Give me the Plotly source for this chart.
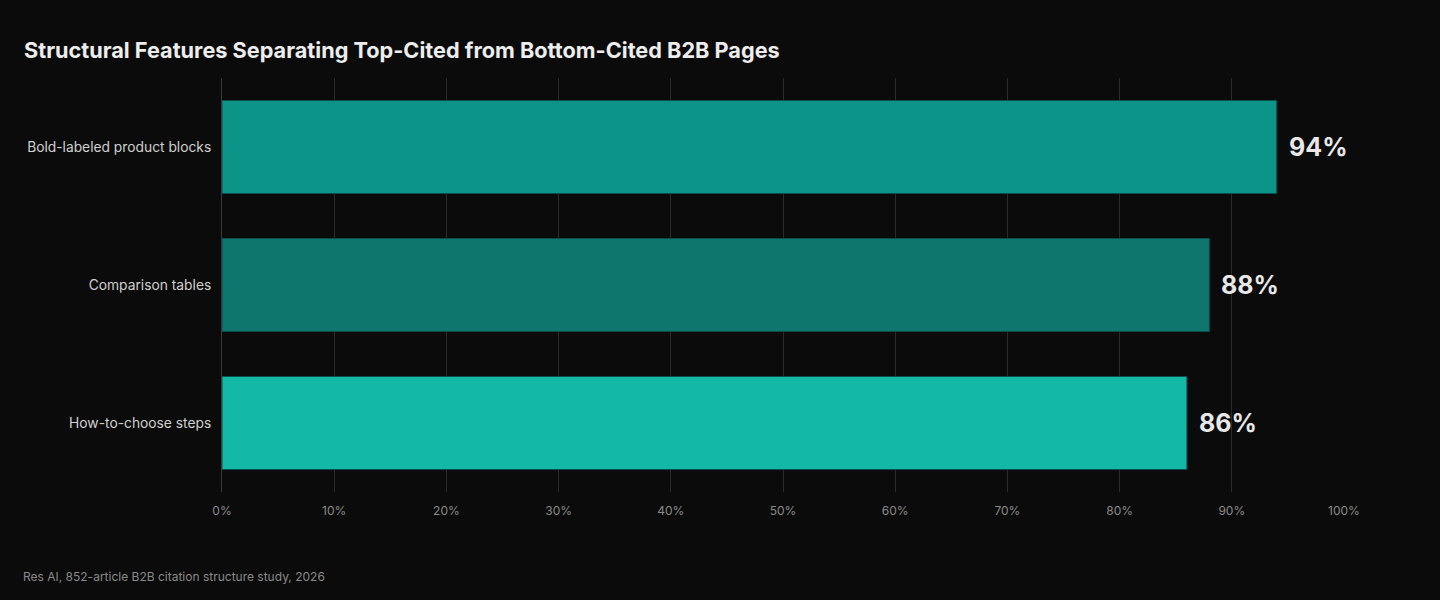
import plotly.graph_objects as go

categories = ["Bold-labeled product blocks", "Comparison tables", "How-to-choose steps"]
values = [94, 88, 86]
bar_colors = ["#0D9488", "#0F766E", "#14B8A6"]
tick_vals = [0, 10, 20, 30, 40, 50, 60, 70, 80, 90, 100]
tick_text = [f"{v}%" for v in tick_vals]
title_text = "Structural Features Separating Top-Cited from Bottom-Cited B2B Pages"
source_text = "Res AI, 852-article B2B citation structure study, 2026"

FONT = "Inter, Roboto, sans-serif"
W, H = 1440, 600
L, R, T, B = 222, 96, 78, 108
PW = W - L - R

fig = go.Figure(
    go.Bar(
        x=values,
        y=categories,
        orientation="h",
        marker=dict(color=bar_colors, line=dict(color="#0b4f4a", width=1)),
        width=0.674,
        hoverinfo="skip",
    )
)

annotations = [
    dict(
        x=v,
        y=c,
        xref="x",
        yref="y",
        text=f"<b>{v}%</b>",
        xanchor="left",
        yanchor="middle",
        xshift=10,
        showarrow=False,
        font=dict(family=FONT, size=25, color="#E8E8E8"),
    )
    for c, v in zip(categories, values)
]
annotations.append(
    dict(
        text=source_text,
        xref="paper",
        yref="paper",
        x=(21 - L) / PW,
        y=0,
        xanchor="left",
        yanchor="middle",
        yshift=-(576 - (H - B)),
        showarrow=False,
        font=dict(family=FONT, size=12, color="#8A8A8A"),
    )
)

fig.update_layout(
    width=W,
    height=H,
    paper_bgcolor="#0B0B0B",
    plot_bgcolor="#0B0B0B",
    margin=dict(l=L, r=R, t=T, b=B),
    showlegend=False,
    title=dict(
        text=f"<b>{title_text}</b>",
        x=24 / W,
        xanchor="left",
        y=1 - 50 / H,
        yanchor="middle",
        font=dict(family=FONT, size=21.7, color="#EDEDED"),
    ),
    xaxis=dict(
        range=[0, 100],
        tickvals=tick_vals,
        ticktext=tick_text,
        showgrid=True,
        gridcolor="#2A2A2A",
        gridwidth=1,
        zeroline=False,
        showline=False,
        ticks="",
        ticklabelstandoff=10,
        tickfont=dict(family=FONT, size=12, color="#8A8A8A"),
        fixedrange=True,
    ),
    yaxis=dict(
        autorange="reversed",
        showgrid=False,
        zeroline=False,
        showline=True,
        linecolor="#3A3A3A",
        linewidth=1,
        ticks="",
        ticklabelstandoff=7,
        tickfont=dict(family=FONT, size=13.8, color="#D0D0D0"),
        fixedrange=True,
    ),
    annotations=annotations,
)

fig.write_html(
    "out.html",
    config={"displayModeBar": False},
    post_script="document.body.style.margin='0';document.body.style.background='#0B0B0B';",
)
